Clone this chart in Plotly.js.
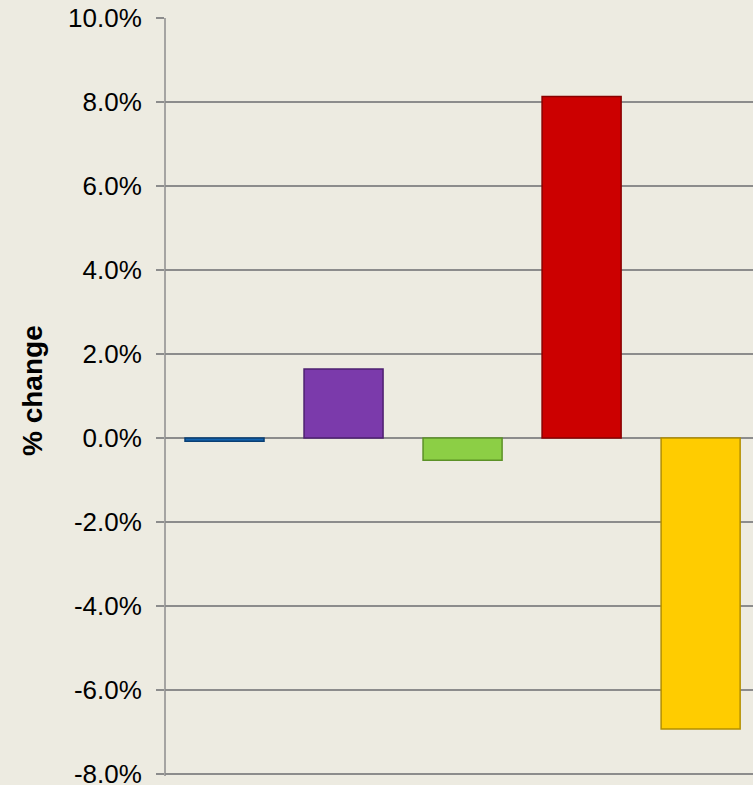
<!DOCTYPE html>
<html>
<head>
<meta charset="utf-8">
<script src="https://cdn.plot.ly/plotly-3.0.1.min.js"></script>
<style>html,body{margin:0;padding:0;background:#EDEBE1;}</style>
</head>
<body>
<div id="chart" style="width:753px;height:785px;"></div>
<script>
const categories = ["A", "B", "C", "D", "E"];
const values = [-0.08, 1.64, -0.53, 8.13, -6.93];
const barColors = ["#1565B0", "#7B3AAB", "#8CCF45", "#CC0000", "#FFCC00"];
const edgeColors = ["#0A3F73", "#4E2070", "#5C9127", "#8A0000", "#B38F00"];
const yTicks = [-8, -6, -4, -2, 0, 2, 4, 6, 8, 10];
const yTitle = "% change";

const trace = {
  type: "bar",
  x: categories,
  y: values,
  marker: { color: barColors, line: { color: edgeColors, width: 1.5 } },
  hoverinfo: "none"
};

const layout = {
  width: 753,
  height: 785,
  paper_bgcolor: "#EDEBE1",
  plot_bgcolor: "#EDEBE1",
  margin: { l: 165, r: 0, t: 18, b: 9 },
  showlegend: false,
  bargap: 0.336,
  font: { family: "Liberation Sans, Arial, sans-serif", color: "#000" },
  xaxis: {
    range: [-0.5, 4.44],
    showticklabels: false,
    showgrid: false,
    zeroline: false,
    showline: false,
    ticks: ""
  },
  yaxis: {
    range: [-8.05, 10],
    tickvals: yTicks,
    ticktext: yTicks.map(v => v.toFixed(1) + "%"),
    showgrid: true,
    gridcolor: "#8C8C8C",
    gridwidth: 1.5,
    zeroline: true,
    zerolinecolor: "#8C8C8C",
    zerolinewidth: 1.5,
    showline: false,
    ticks: "outside",
    ticklen: 8,
    tickwidth: 1.5,
    tickcolor: "#8C8C8C",
    ticklabelstandoff: 9,
    ticklabeloverflow: "allow",
    tickfont: { size: 26, family: "Liberation Sans, Arial, sans-serif", color: "#000" }
  },
  shapes: [{
    type: "line", xref: "paper", yref: "paper",
    x0: 0, x1: 0, y0: 0, y1: 1,
    line: { color: "#8C8C8C", width: 1.5 },
    layer: "above"
  }],
  annotations: [{
    text: "<b>" + yTitle + "</b>",
    xref: "paper", yref: "paper",
    x: (32 - 165) / 588, y: (776 - 391) / 758,
    xanchor: "center", yanchor: "middle",
    textangle: -90,
    showarrow: false,
    font: { size: 28, family: "Liberation Sans, Arial, sans-serif", color: "#000" }
  }]
};

Plotly.newPlot("chart", [trace], layout, { displayModeBar: false, staticPlot: true });
</script>
</body>
</html>
